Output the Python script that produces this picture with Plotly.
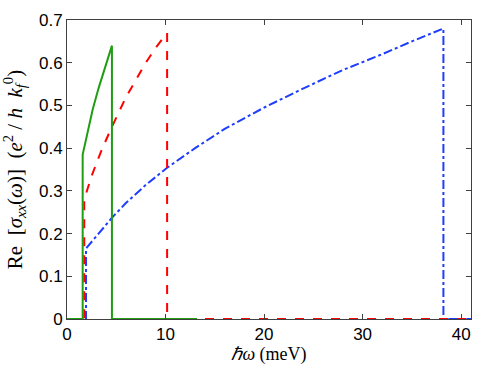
import plotly.graph_objects as go

# conductivité optique pour trois densités
X_MAX = 41

green_x = [0, 1.59, 1.59, 2.0, 2.6, 3.2, 3.9, 4.56, 4.56, 13.2]
green_y = [0, 0, 0.385, 0.43, 0.49, 0.54, 0.59, 0.64, 0, 0]

red_x = [0, 1.75, 1.75, 2.5, 3.5, 4.56, 6.0, 7.0, 8.0, 9.0, 10.16, 10.16, 41]
red_y = [0, 0, 0.28, 0.335, 0.395, 0.45, 0.52, 0.56, 0.60, 0.635, 0.67, 0, 0]

blue_x = [0, 1.93, 1.93, 3.0, 4.56, 6.0, 8.0, 10.16, 13.0, 16.0, 20.0, 24.0,
          28.0, 32.0, 35.0, 38.2, 38.2, 41]
blue_y = [0, 0, 0.165, 0.195, 0.237, 0.272, 0.314, 0.354, 0.40, 0.445, 0.495,
          0.54, 0.583, 0.62, 0.65, 0.68, 0, 0]

x_ticks = [0, 10, 20, 30, 40]
y_ticks = [0, 0.1, 0.2, 0.3, 0.4, 0.5, 0.6, 0.7]

GREEN = "#1f9e12"
RED = "#ff0000"
BLUE = "#1f3dff"

fig = go.Figure()
fig.add_trace(go.Scatter(x=blue_x, y=blue_y, mode="lines",
                         line=dict(color=BLUE, width=2, dash="dashdot")))
fig.add_trace(go.Scatter(x=red_x, y=red_y, mode="lines",
                         line=dict(color=RED, width=2, dash="dash")))
fig.add_trace(go.Scatter(x=green_x, y=green_y, mode="lines",
                         line=dict(color=GREEN, width=2)))

axis_common = dict(
    showline=True, linecolor="#404040", linewidth=1, mirror="ticks",
    ticks="inside", ticklen=5, tickcolor="#404040",
    showgrid=False, zeroline=False, automargin=False,
    tickfont=dict(family="Liberation Sans", size=17, color="black"),
)

fig.update_xaxes(range=[0, X_MAX], tickvals=x_ticks,
                 ticktext=[str(v) for v in x_ticks],
                 title=dict(text="<i>ℏω</i> (meV)", standoff=2,
                            font=dict(family="Liberation Serif", size=18, color="black")),
                 **axis_common)
fig.update_yaxes(range=[0, 0.7], tickvals=y_ticks,
                 ticktext=["0"] + [f"{v:g}" for v in y_ticks[1:]],
                 title=dict(text="Re  [<i>σ</i><sub><i>xx</i></sub>(<i>ω</i>)]  (<i>e</i><sup>2</sup> / <i>h  k</i><sub><i>f</i></sub><sup>0</sup>)",
                            standoff=12,
                            font=dict(family="Liberation Serif", size=21, color="black")),
                 **axis_common)

fig.update_layout(
    width=501, height=382,
    plot_bgcolor="white", paper_bgcolor="white",
    showlegend=False,
    margin=dict(l=67, r=30, t=20, b=63),
)

# supprime la marge par défaut du <body>
fig.write_html("out.html", config={"displayModeBar": False},
               post_script="document.body.style.margin='0';")
